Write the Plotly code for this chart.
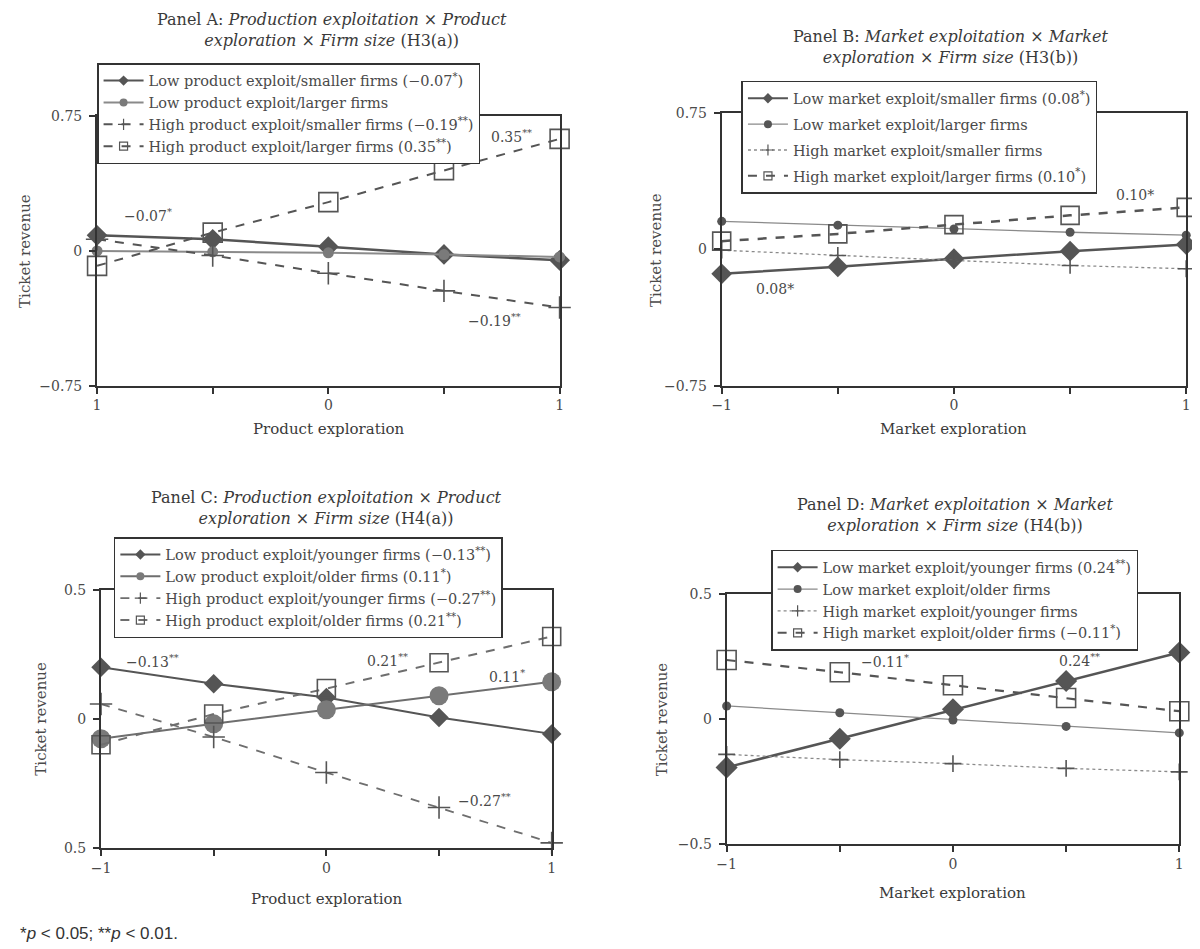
import plotly.graph_objects as go

# ---------------- data ----------------
x_vals = [-1, -0.5, 0, 0.5, 1]

# Panel A (firm size, product)
a_low_small = [0.087, 0.065, 0.024, -0.019, -0.052]
a_low_large = [0.0, -0.005, -0.01, -0.02, -0.033]
a_high_small = [0.065, -0.025, -0.124, -0.222, -0.315]
a_high_large = [-0.083, 0.102, 0.272, 0.45, 0.624]

# Panel B (firm size, market)
b_low_small = [-0.134, -0.095, -0.051, -0.009, 0.027]
b_low_large = [0.155, 0.134, 0.113, 0.095, 0.079]
b_high_small = [-0.004, -0.033, -0.06, -0.088, -0.106]
b_high_large = [0.046, 0.086, 0.137, 0.188, 0.232]

# Panel C (firm age, product)
c_low_young = [0.201, 0.137, 0.083, 0.006, -0.058]
c_low_old = [-0.077, -0.019, 0.036, 0.09, 0.144]
c_high_young = [0.058, -0.07, -0.208, -0.344, -0.481]
c_high_old = [-0.1, 0.019, 0.118, 0.218, 0.32]

# Panel D (firm age, market)
d_low_young = [-0.194, -0.079, 0.039, 0.152, 0.266]
d_low_old = [0.052, 0.025, -0.004, -0.03, -0.056]
d_high_young = [-0.142, -0.163, -0.179, -0.198, -0.212]
d_high_old = [0.236, 0.187, 0.135, 0.084, 0.031]

names_a = ["Low product exploit/smaller firms (\u22120.07<sup>*</sup>)",
           "Low product exploit/larger firms",
           "High product exploit/smaller firms (\u22120.19<sup>**</sup>)",
           "High product exploit/larger firms (0.35<sup>**</sup>)"]
names_b = ["Low market exploit/smaller firms (0.08<sup>*</sup>)",
           "Low market exploit/larger firms",
           "High market exploit/smaller firms",
           "High market exploit/larger firms (0.10<sup>*</sup>)"]
names_c = ["Low product exploit/younger firms (\u22120.13<sup>**</sup>)",
           "Low product exploit/older firms (0.11<sup>*</sup>)",
           "High product exploit/younger firms (\u22120.27<sup>**</sup>)",
           "High product exploit/older firms (0.21<sup>**</sup>)"]
names_d = ["Low market exploit/younger firms (0.24<sup>**</sup>)",
           "Low market exploit/older firms",
           "High market exploit/younger firms",
           "High market exploit/older firms (\u22120.11<sup>*</sup>)"]

titles = ["Panel A: <i>Production exploitation</i> \u00d7 <i>Product</i><br><i>exploration</i> \u00d7 <i>Firm size</i> (H3(a))",
          "Panel B: <i>Market exploitation</i> \u00d7 <i>Market</i><br><i>exploration</i> \u00d7 <i>Firm size</i> (H3(b))",
          "Panel C: <i>Production exploitation</i> \u00d7 <i>Product</i><br><i>exploration</i> \u00d7 <i>Firm size</i> (H4(a))",
          "Panel D: <i>Market exploitation</i> \u00d7 <i>Market</i><br><i>exploration</i> \u00d7 <i>Firm size</i> (H4(b))"]
x_titles = ["Product exploration", "Market exploration", "Product exploration", "Market exploration"]
y_title = "Ticket revenue"

x_ticktext = [["1", "", "0", "", "1"],
              ["\u22121", "", "0", "", "1"],
              ["\u22121", "", "0", "", "1"],
              ["\u22121", "", "0", "", "1"]]
y_tickvals = [[-0.75, 0, 0.75], [-0.75, 0, 0.75], [-0.5, 0, 0.5], [-0.5, 0, 0.5]]
y_ticktext = [["\u22120.75", "0", "0.75"], ["\u22120.75", "0", "0.75"],
              ["0.5", "0", "0.5"], ["\u22120.5", "0", "0.5"]]

# slope labels: (panel, x, y, text)
slope_labels = [
    (0, -0.78, 0.2, "\u22120.07<sup>*</sup>"),
    (0, 0.79, 0.64, "0.35<sup>**</sup>"),
    (0, 0.72, -0.385, "\u22120.19<sup>**</sup>"),
    (1, -0.77, -0.22, "0.08*"),
    (1, 0.78, 0.3, "0.10*"),
    (2, -0.77, 0.225, "\u22120.13<sup>**</sup>"),
    (2, 0.27, 0.23, "0.21<sup>**</sup>"),
    (2, 0.8, 0.167, "0.11<sup>*</sup>"),
    (2, 0.7, -0.315, "\u22120.27<sup>**</sup>"),
    (3, -0.3, 0.232, "\u22120.11<sup>*</sup>"),
    (3, 0.56, 0.235, "0.24<sup>**</sup>"),
]

# ---------------- layout geometry (pixels) ----------------
W, H = 1200, 949
plots = [  # x0, x1, ytop, ybottom
    (80, 548, 102, 376),
    (712, 1182, 99, 376),
    (84, 540, 584, 846),
    (717, 1175, 588, 842),
]
legend_pos = [(80, 48), (732, 66), (97, 530), (762, 543)]
legend_gap = [0, 4, 0, 0]
title_pos = [(318, 14), (944, 32), (312, 500), (949, 508)]
ytitle_x = [7, 646, 23, 652]
xtitle_gap = [44, 44, 52, 50]

FONT = "DejaVu Serif"
TXT = "#4a4a4a"
DARK = "#555555"
MID = "#6e6e6e"
LIGHT = "#8a8a8a"

# style per panel per series: (line color, width, dash, symbol, size, marker color)
styles = [
    [(DARK, 2.5, "solid", "diamond", 16, DARK),
     (LIGHT, 2, "solid", "circle", 11, "#7a7a7a"),
     (DARK, 2, "dash", "cross-thin", 16, DARK),
     (DARK, 2, "dash", "square-open", 19, DARK)],
    [(DARK, 2.5, "solid", "diamond", 16, DARK),
     (LIGHT, 1.3, "solid", "circle", 9, DARK),
     (LIGHT, 1.3, "dot", "cross-thin", 12, DARK),
     (DARK, 2.5, "dash", "square-open", 18, DARK)],
    [(DARK, 2, "solid", "diamond", 15, DARK),
     (MID, 2, "solid", "circle", 19, "#7a7a7a"),
     (MID, 1.8, "dash", "cross-thin", 16, DARK),
     (MID, 2, "dash", "square-open", 18, DARK)],
    [(DARK, 2.5, "solid", "diamond", 17, DARK),
     (LIGHT, 1.3, "solid", "circle", 9, DARK),
     (LIGHT, 1.3, "dot", "cross-thin", 12, DARK),
     (DARK, 2.2, "dash", "square-open", 19, DARK)],
]

panel_data = [
    [a_low_small, a_low_large, a_high_small, a_high_large],
    [b_low_small, b_low_large, b_high_small, b_high_large],
    [c_low_young, c_low_old, c_high_young, c_high_old],
    [d_low_young, d_low_old, d_high_young, d_high_old],
]
panel_names = [names_a, names_b, names_c, names_d]

fig = go.Figure()

for p in range(4):
    xa = "x" if p == 0 else f"x{p+1}"
    ya = "y" if p == 0 else f"y{p+1}"
    lg = "legend" if p == 0 else f"legend{p+1}"
    for s in range(4):
        color, width, dash, symbol, size, mcol = styles[p][s]
        is_open = symbol in ("square-open", "cross-thin")
        marker = dict(symbol=symbol, size=size, color=mcol if not is_open else DARK,
                      line=dict(width=1.6 if is_open else 0, color=DARK))
        fig.add_trace(go.Scatter(
            x=x_vals, y=panel_data[p][s], mode="lines+markers",
            line=dict(color=color, width=width, dash=dash),
            marker=marker, cliponaxis=False, showlegend=False,
            xaxis=xa, yaxis=ya, hoverinfo="skip"))
        lmarker = dict(symbol=symbol, size=8,
                       color=mcol if not is_open else DARK,
                       line=dict(width=1.2 if is_open else 0, color=DARK))
        fig.add_trace(go.Scatter(
            x=[None], y=[None], mode="lines+markers", name=panel_names[p][s],
            line=dict(color=color, width=min(width, 2), dash=dash),
            marker=lmarker, legend=lg, legendgroup=f"g{p}{s}",
            xaxis=xa, yaxis=ya))

layout = dict(width=W, height=H, margin=dict(l=0, r=0, t=0, b=0),
              paper_bgcolor="white", plot_bgcolor="white",
              font=dict(family=FONT, color=TXT, size=14), showlegend=True)

annotations = []
for p in range(4):
    x0, x1, yt, yb = plots[p]
    sfx = "" if p == 0 else str(p + 1)
    axis_common = dict(showline=True, linecolor="#333333", linewidth=2, mirror=True,
                       showgrid=False, zeroline=False, ticks="outside", ticklen=6,
                       tickwidth=2, tickcolor="#333333",
                       tickfont=dict(family=FONT, size=14, color=TXT))
    layout["xaxis" + sfx] = dict(axis_common, domain=[x0 / W, x1 / W], range=[-1, 1],
                                 tickvals=x_vals, ticktext=x_ticktext[p],
                                 anchor="y" + sfx, fixedrange=True)
    yr = [y_tickvals[p][0], y_tickvals[p][-1]]
    layout["yaxis" + sfx] = dict(axis_common, domain=[1 - yb / H, 1 - yt / H], range=yr,
                                 tickvals=y_tickvals[p], ticktext=y_ticktext[p],
                                 ticklabelstandoff=4,
                                 anchor="x" + sfx, fixedrange=True)
    lx, ly = legend_pos[p]
    layout["legend" if p == 0 else f"legend{p+1}"] = dict(
        x=lx / W, y=1 - ly / H, xanchor="left", yanchor="top",
        bgcolor="white", bordercolor="#333333", borderwidth=1.5,
        font=dict(family=FONT, size=14.5, color=TXT),
        tracegroupgap=legend_gap[p], itemsizing="trace", itemwidth=40)
    tx, ty = title_pos[p]
    annotations.append(dict(text=titles[p], x=tx / W, y=1 - ty / H, xref="paper", yref="paper",
                            showarrow=False, xanchor="center", yanchor="middle",
                            font=dict(family=FONT, size=16, color="#3a3a3a")))
    annotations.append(dict(text=y_title, x=ytitle_x[p] / W, y=1 - (yt + yb) / 2 / H,
                            xref="paper", yref="paper", showarrow=False, textangle=-90,
                            xanchor="center", yanchor="middle",
                            font=dict(family=FONT, size=15, color=TXT)))
    annotations.append(dict(text=x_titles[p], x=(x0 + x1) / 2 / W,
                            y=1 - (yb + xtitle_gap[p]) / H,
                            xref="paper", yref="paper", showarrow=False,
                            xanchor="center", yanchor="middle",
                            font=dict(family=FONT, size=15, color="#3a3a3a")))

for p, lx, ly, txt in slope_labels:
    sfx = "" if p == 0 else str(p + 1)
    annotations.append(dict(text=txt, x=lx, y=ly, xref="x" + sfx, yref="y" + sfx,
                            showarrow=False, font=dict(family=FONT, size=14, color=TXT)))

annotations.append(dict(text="*<i>p</i> < 0.05; **<i>p</i> < 0.01.", x=0, y=1 - 933 / H,
                        xref="paper", yref="paper", showarrow=False, xanchor="left",
                        yanchor="middle",
                        font=dict(family="Liberation Sans", size=17, color="#333333")))

layout["annotations"] = annotations
fig.update_layout(**layout)
fig.write_html("out.html")
